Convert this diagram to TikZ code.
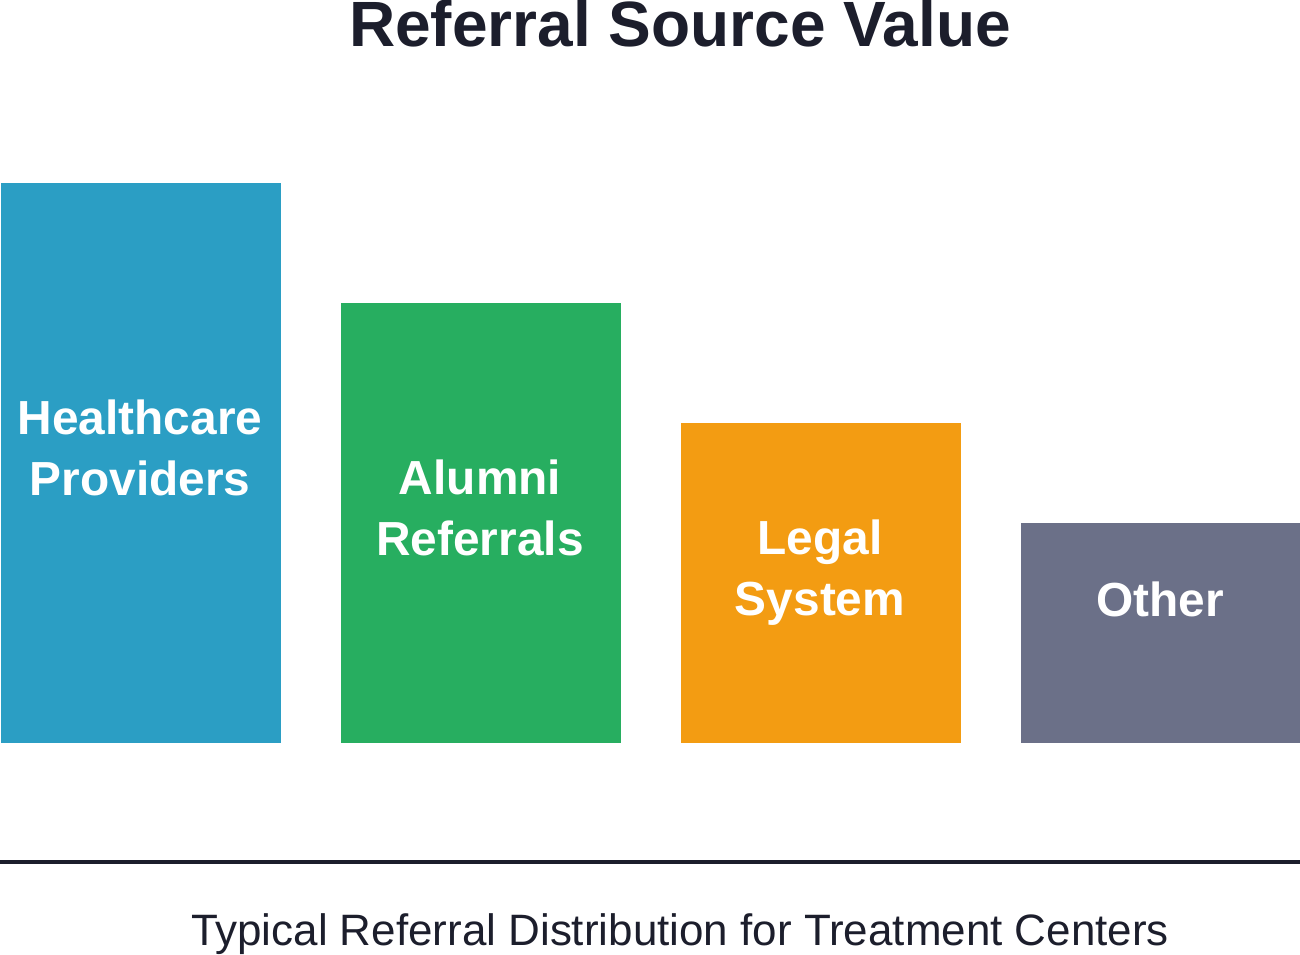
\documentclass[tikz,border=0pt]{standalone}
\usepackage{fontspec}
\setmainfont{Liberation Sans}
\definecolor{hcblue}{HTML}{2B9EC4}
\definecolor{alumgreen}{HTML}{27AE60}
\definecolor{legalorange}{HTML}{F39C12}
\definecolor{othergray}{HTML}{6B7088}
\definecolor{inkdark}{HTML}{1C1E2C}

\begin{document}
\begin{tikzpicture}[x=0.01cm,y=-0.01cm,
  bar/.style={rectangle,inner sep=0pt,minimum width=2.8cm,anchor=north west},
  lbl/.style={text=white,font=\fontsize{13.6}{17.07}\selectfont\bfseries,align=center,anchor=base}]
\useasboundingbox (0,0) rectangle (1300,954);

% title
\node[text=inkdark,font=\fontsize{18.2}{21}\selectfont\bfseries,anchor=base] (title) at (680,46) {Referral Source Value};

% bars
\node[bar,fill=hcblue,minimum height=5.6cm] (hc) at (0,182) {};
\node[bar,fill=alumgreen,minimum height=4.4cm] (alum) at (340,302) {};
\node[bar,fill=legalorange,minimum height=3.2cm] (legal) at (680,422) {};
\node[bar,fill=othergray,minimum height=2.2cm] (other) at (1020,522) {};

% labels (base = last line)
\node[lbl] (hclbl) at (140,495) {Healthcare\\Providers};
\node[lbl] (alumlbl) at (480,555) {Alumni\\Referrals};
\node[lbl] (legallbl) at (820,615) {Legal\\System};
\node[lbl] (otherlbl) at (1160,616) {Other};

% base line
\coordinate (axl) at (0,862);
\coordinate (axr) at (1300,862);
\draw[inkdark,line width=1.1pt] (axl) -- (axr);

% caption
\node[text=inkdark,font=\fontsize{12.5}{15}\selectfont,anchor=base] (caption) at (680,945) {Typical Referral Distribution for Treatment Centers};
\end{tikzpicture}
\end{document}
